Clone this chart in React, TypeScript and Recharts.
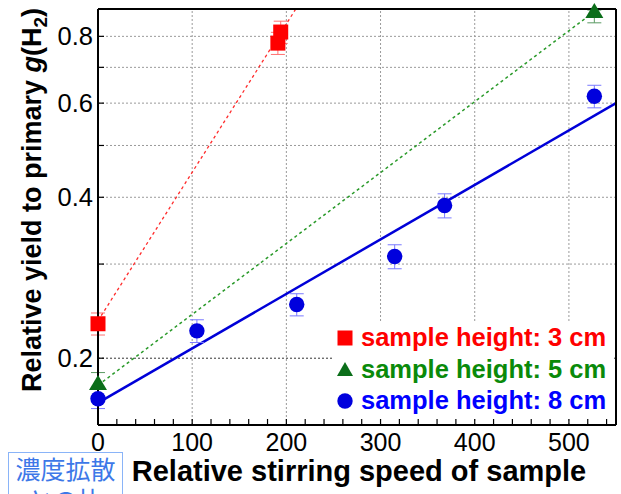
import React from 'react';
import {
  ComposedChart,
  Scatter,
  Line,
  XAxis,
  YAxis,
  ReferenceLine,
  ErrorBar,
  Legend,
  Label,
} from 'recharts';

const FONT = '"Liberation Sans", Arial, Helvetica, sans-serif';

// sample height 3 cm
const h3Speed = [0, 191, 194];
const h3Yield = [0.232, 0.777, 0.815];
const h3Err = [0.011, 0.037, 0.039];

// sample height 5 cm (top point: upper bar runs off the frame)
const h5Speed = [0, 527];
const h5Yield = [0.179, 0.888];
const h5ErrLow = [0.009, 0.04];
const h5ErrHigh = [0.009, 0.008];

// sample height 8 cm
const h8Speed = [0, 105, 211, 315, 368, 527];
const h8Yield = [0.168, 0.225, 0.252, 0.31, 0.386, 0.618];
const h8Err = [0.007, 0.011, 0.012, 0.016, 0.02, 0.03];

// fitted lines, end points
const fit3Speed = [0, 210];
const fit3Yield = [0.235, 0.9];
const fit5Speed = [0, 527];
const fit5Yield = [0.178, 0.89];
const fit8Speed = [0, 550];
const fit8Yield = [0.165, 0.6];

// axes
const xLabelTicks = [0, 100, 200, 300, 400, 500];
const xGrid = [100, 200, 300, 400, 500];
const xMinorStep = 20;
const xMinorTicks = Array.from({ length: 28 }, (_, i) => i * xMinorStep);
const yTicks = [0.2, 0.3, 0.4, 0.5, 0.6, 0.7, 0.8];
const yLabelTicks = [0.2, 0.4, 0.6, 0.8];

const RED = '#ff0000';
const GREEN = '#0b6e1a';
const BLUE = '#0000dd';

const h3Data = h3Speed.map((x, i) => ({ x, y: h3Yield[i], err: h3Err[i] }));
const h5Data = h5Speed.map((x, i) => ({ x, y: h5Yield[i], err: [h5ErrLow[i], h5ErrHigh[i]] }));
const h8Data = h8Speed.map((x, i) => ({ x, y: h8Yield[i], err: h8Err[i] }));
const fit3 = fit3Speed.map((x, i) => ({ x, y: fit3Yield[i] }));
const fit5 = fit5Speed.map((x, i) => ({ x, y: fit5Yield[i] }));
const fit8 = fit8Speed.map((x, i) => ({ x, y: fit8Yield[i] }));

const legendItems = [
  { label: 'sample height: 3 cm', color: RED, text: '#ff0000', shape: 'square' },
  { label: 'sample height: 5 cm', color: GREEN, text: '#0a8a0a', shape: 'triangle' },
  { label: 'sample height: 8 cm', color: BLUE, text: '#0000ff', shape: 'circle' },
];

const SquareDot = (p: any) => (
  <rect x={p.cx - 7.5} y={p.cy - 7.5} width={15} height={15} fill={RED} />
);
const TriangleDot = (p: any) => (
  <polygon
    points={`${p.cx},${p.cy - 9} ${p.cx - 9},${p.cy + 6} ${p.cx + 9},${p.cy + 6}`}
    fill={GREEN}
  />
);
const CircleDot = (p: any) => <circle cx={p.cx} cy={p.cy} r={7.7} fill={BLUE} />;

const XTick = (p: any) => {
  const v = p.payload.value;
  return (
    <g>
      <line x1={p.x} x2={p.x} y1={p.y} y2={p.y - 6} stroke="#000" strokeWidth={1.2} />
      {xLabelTicks.includes(v) && (
        <text x={p.x} y={p.y + 26} textAnchor="middle" fontFamily={FONT} fontSize={25} fill="#000">
          {v}
        </text>
      )}
    </g>
  );
};

const TopTick = (p: any) => (
  <line x1={p.x} x2={p.x} y1={p.y} y2={p.y + 6} stroke="#000" strokeWidth={1.2} />
);

const YTick = (p: any) => {
  const v = p.payload.value;
  return (
    <g>
      <line x1={p.x} x2={p.x + 6} y1={p.y} y2={p.y} stroke="#000" strokeWidth={1.2} />
      {yLabelTicks.includes(v) && (
        <text x={p.x - 5} y={p.y + 9} textAnchor="end" fontFamily={FONT} fontSize={25.5} fill="#000">
          {v.toFixed(1)}
        </text>
      )}
    </g>
  );
};

const RightTick = (p: any) => (
  <line x1={p.x} x2={p.x - 6} y1={p.y} y2={p.y} stroke="#000" strokeWidth={1.2} />
);

const LegendMarker = ({ shape, color }: { shape: string; color: string }) => (
  <svg width={16} height={16} style={{ display: 'block' }}>
    {shape === 'square' && <rect x={0.5} y={0.5} width={15} height={15} fill={color} />}
    {shape === 'triangle' && <polygon points="8,1 0,15 16,15" fill={color} />}
    {shape === 'circle' && <circle cx={8} cy={8} r={7.7} fill={color} />}
  </svg>
);

const LegendBox = () => (
  <div style={{ background: '#fff', width: 280, fontFamily: FONT }}>
    {legendItems.map((it) => (
      <div
        key={it.label}
        style={{ display: 'flex', alignItems: 'center', height: 31.5 }}
      >
        <div style={{ marginLeft: 4, marginRight: 8 }}>
          <LegendMarker shape={it.shape} color={it.color} />
        </div>
        <span style={{ color: it.text, fontSize: 25.5, fontWeight: 'bold', whiteSpace: 'nowrap' }}>
          {it.label}
        </span>
      </div>
    ))}
  </div>
);

export default function App() {
  return (
    <div style={{ position: 'absolute', left: 0, top: 0, width: 621, height: 494, overflow: 'hidden', background: '#fff' }}>
      <ComposedChart width={621} height={494} margin={{ top: 8, right: 4, bottom: 0, left: 0 }}>
        <XAxis
          xAxisId="bottom"
          dataKey="x"
          type="number"
          domain={[0, 550]}
          ticks={xMinorTicks}
          interval={0}
          height={69}
          tickSize={0}
          tickMargin={0}
          tickLine={false}
          tick={<XTick />}
          axisLine={{ stroke: '#000', strokeWidth: 2 }}
        >
          <Label
            content={() => (
              <text x={359} y={481} textAnchor="middle" fontFamily={FONT} fontSize={29} fontWeight="bold" fill="#000">
                Relative stirring speed of sample
              </text>
            )}
          />
        </XAxis>
        <XAxis
          xAxisId="top"
          orientation="top"
          dataKey="x"
          type="number"
          domain={[0, 550]}
          ticks={xMinorTicks}
          interval={0}
          height={1}
          tickSize={0}
          tickMargin={0}
          tickLine={false}
          tick={<TopTick />}
          axisLine={{ stroke: '#000', strokeWidth: 2 }}
        />
        <YAxis
          yAxisId="left"
          type="number"
          scale="log"
          domain={[0.15, 0.9]}
          ticks={yTicks}
          interval={0}
          width={98}
          tickSize={0}
          tickMargin={0}
          tickLine={false}
          tick={<YTick />}
          axisLine={{ stroke: '#000', strokeWidth: 2 }}
        >
          <Label
            content={() => (
              <text
                x={41}
                y={200}
                transform="rotate(-90 41 200)"
                textAnchor="middle"
                fontFamily={FONT}
                fontSize={27}
                fontWeight="bold"
                fill="#000"
              >
                Relative yield to primary <tspan fontStyle="italic">g</tspan>(H
                <tspan dy={6} fontSize={19}>2</tspan>
                <tspan dy={-6}>)</tspan>
              </text>
            )}
          />
        </YAxis>
        <YAxis
          yAxisId="right"
          orientation="right"
          type="number"
          scale="log"
          domain={[0.15, 0.9]}
          ticks={yTicks}
          interval={0}
          width={1}
          tickSize={0}
          tickMargin={0}
          tickLine={false}
          tick={<RightTick />}
          axisLine={{ stroke: '#000', strokeWidth: 2 }}
        />

        {xGrid.map((v) => (
          <ReferenceLine key={`gx${v}`} xAxisId="bottom" yAxisId="left" x={v} stroke="#9a9a9a" strokeDasharray="2 2" />
        ))}
        {yTicks.map((v) => (
          <ReferenceLine
            key={`gy${v}`}
            xAxisId="bottom"
            yAxisId="left"
            y={v}
            stroke={v === 0.2 ? '#333' : '#9a9a9a'}
            strokeDasharray="2 2"
          />
        ))}

        <Line
          xAxisId="bottom"
          yAxisId="left"
          data={fit3}
          dataKey="y"
          stroke="#ff2a2a"
          strokeWidth={1.3}
          strokeDasharray="3 3"
          dot={false}
          legendType="none"
          isAnimationActive={false}
        />
        <Line
          xAxisId="bottom"
          yAxisId="left"
          data={fit5}
          dataKey="y"
          stroke="#2a9a2a"
          strokeWidth={1.5}
          strokeDasharray="3 3"
          dot={false}
          legendType="none"
          isAnimationActive={false}
        />
        <Line
          xAxisId="bottom"
          yAxisId="left"
          data={fit8}
          dataKey="y"
          stroke="#0000d8"
          strokeWidth={2.5}
          dot={false}
          legendType="none"
          isAnimationActive={false}
        />

        <Scatter xAxisId="bottom" yAxisId="left" data={h3Data} dataKey="y" shape={SquareDot} isAnimationActive={false}>
          <ErrorBar dataKey="err" direction="y" width={7} stroke="#ff7070" strokeWidth={1} />
        </Scatter>
        <Scatter xAxisId="bottom" yAxisId="left" data={h5Data} dataKey="y" shape={TriangleDot} isAnimationActive={false}>
          <ErrorBar dataKey="err" direction="y" width={7} stroke="#5a9a62" strokeWidth={1} />
        </Scatter>
        <Scatter xAxisId="bottom" yAxisId="left" data={h8Data} dataKey="y" shape={CircleDot} isAnimationActive={false}>
          <ErrorBar dataKey="err" direction="y" width={7} stroke="#7a7aff" strokeWidth={1} />
        </Scatter>

        <Legend
          layout="horizontal"
          verticalAlign="middle"
          align="center"
          content={() => <LegendBox />}
          wrapperStyle={{ position: 'absolute', left: 333, top: 322, width: 282 }}
        />
      </ComposedChart>
      <div
        style={{
          position: 'absolute',
          left: 8,
          top: 452,
          width: 113,
          height: 60,
          border: '1px solid #8ab4f8',
          color: '#3d78e8',
          fontFamily: '"Noto Sans CJK JP", sans-serif',
          fontSize: 25,
          lineHeight: '31px',
          textAlign: 'center',
          background: '#fff',
          overflow: 'hidden',
        }}
      >
        濃度拡散との比
      </div>
    </div>
  );
}
